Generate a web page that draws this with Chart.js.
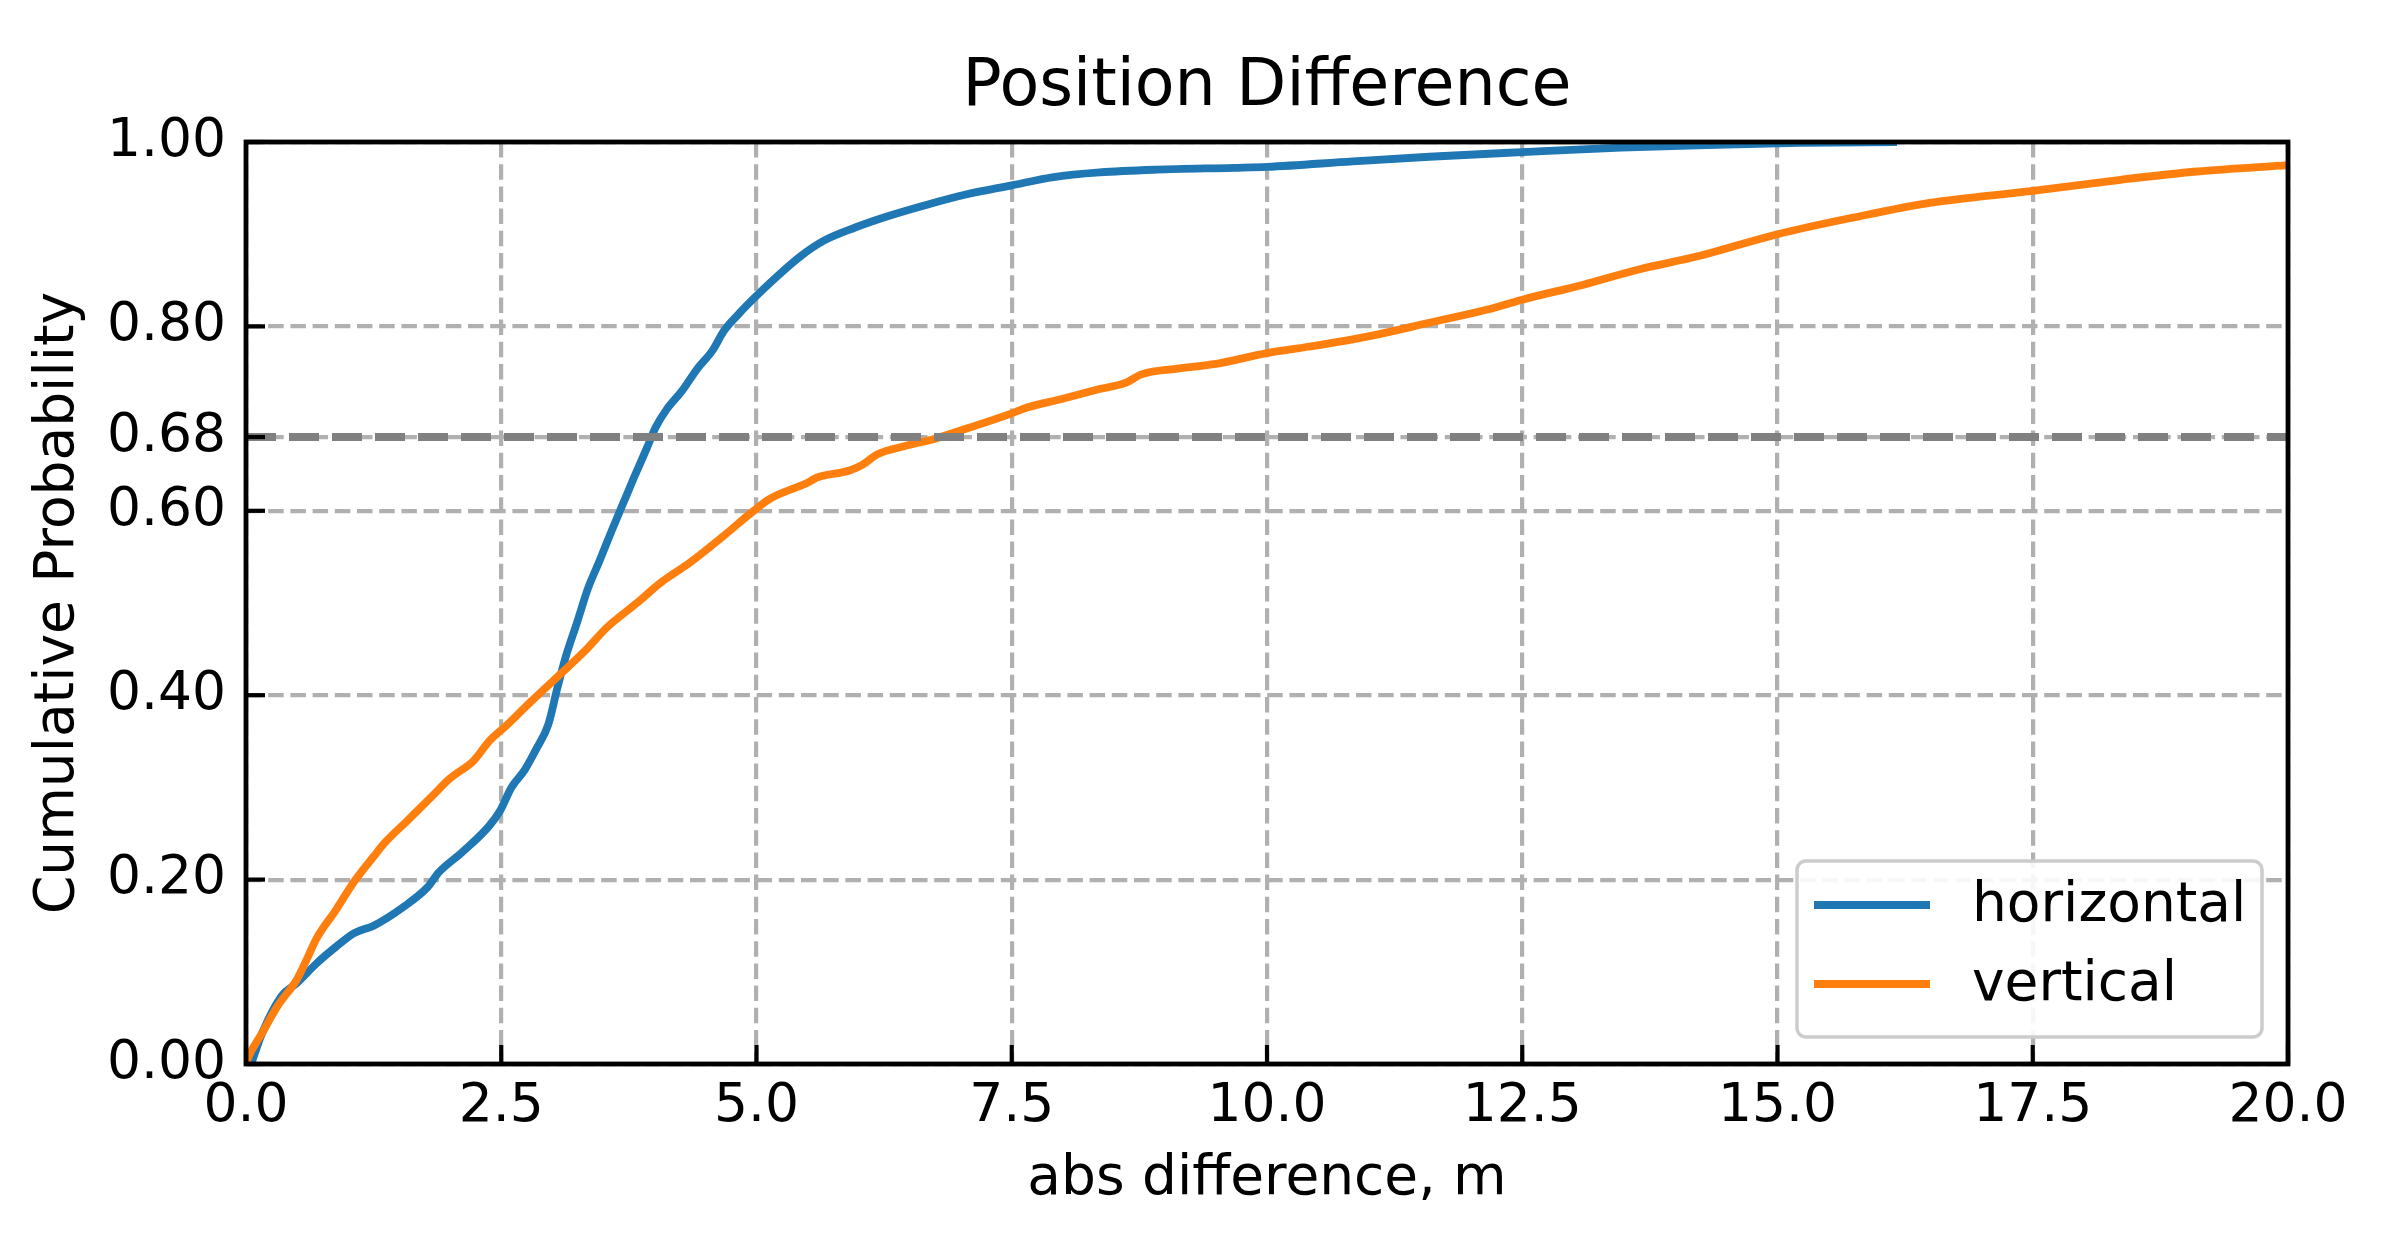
<!DOCTYPE html>
<html>
<head>
<meta charset="utf-8">
<script src="https://cdn.jsdelivr.net/npm/chart.js@4/dist/chart.umd.min.js"></script>
<style>
  html, body { margin: 0; padding: 0; background: #fff; }
  canvas { display: block; }
</style>
</head>
<body>
<canvas id="chart" width="2390" height="1255"></canvas>
<script>
// values
const horizontalX = [0.05, 0.16, 0.35, 0.50, 0.69, 0.88, 1.06, 1.25, 1.55, 1.78, 1.89, 2.11, 2.38, 2.49, 2.60, 2.73, 2.84, 2.96, 3.05, 3.13, 3.24, 3.35, 3.46, 3.58, 3.69, 3.80, 3.93, 4.01, 4.12, 4.27, 4.42, 4.57, 4.68, 4.83, 4.98, 5.17, 5.43, 5.66, 5.96, 6.30, 6.67, 7.05, 7.50, 7.91, 8.36, 8.92, 9.67, 10.0, 10.84, 11.59, 12.5, 13.47, 14.40, 15.22, 16.17];
const horizontalY = [0, 0.034, 0.074, 0.088, 0.109, 0.127, 0.142, 0.150, 0.171, 0.192, 0.208, 0.229, 0.258, 0.275, 0.300, 0.319, 0.341, 0.368, 0.408, 0.441, 0.478, 0.516, 0.545, 0.578, 0.607, 0.636, 0.669, 0.690, 0.710, 0.730, 0.754, 0.774, 0.795, 0.814, 0.831, 0.851, 0.876, 0.893, 0.907, 0.920, 0.932, 0.943, 0.953, 0.962, 0.967, 0.970, 0.972, 0.973, 0.979, 0.984, 0.989, 0.994, 0.997, 0.999, 1.0];

const verticalX = [0, 0.03, 0.16, 0.31, 0.50, 0.61, 0.69, 0.88, 1.06, 1.25, 1.36, 1.59, 1.81, 2.00, 2.23, 2.38, 2.56, 2.79, 3.09, 3.31, 3.54, 3.84, 4.05, 4.35, 4.68, 4.95, 5.13, 5.51, 5.59, 5.92, 6.04, 6.18, 6.48, 6.74, 7.08, 7.46, 7.65, 7.98, 8.36, 8.62, 8.77, 9.11, 9.48, 10.0, 10.47, 11.03, 11.59, 12.15, 12.5, 13.09, 13.65, 14.22, 15.0, 15.74, 16.49, 17.5, 18.36, 19.11, 20.0];
const verticalY = [0, 0.009, 0.034, 0.063, 0.092, 0.117, 0.136, 0.167, 0.198, 0.225, 0.240, 0.265, 0.289, 0.310, 0.329, 0.350, 0.368, 0.393, 0.424, 0.447, 0.474, 0.501, 0.521, 0.544, 0.573, 0.598, 0.613, 0.631, 0.636, 0.644, 0.650, 0.661, 0.671, 0.678, 0.690, 0.704, 0.712, 0.721, 0.732, 0.739, 0.748, 0.754, 0.759, 0.771, 0.779, 0.790, 0.804, 0.818, 0.829, 0.845, 0.862, 0.876, 0.900, 0.918, 0.934, 0.947, 0.959, 0.968, 0.975];

const refLevel = 0.68;
const xRange = [0, 20];
const yTickValues = [0, 0.2, 0.4, 0.6, 0.68, 0.8, 1.0];

const FONT = "'DejaVu Sans', sans-serif";

function toPoints(xs, ys) {
  return xs.map((x, i) => ({ x: x, y: ys[i] }));
}

// spines, inward ticks and the legend box drawn on top of the lines
const framePlugin = {
  id: "frame",
  afterDatasetsDraw(chart) {
    const { ctx, chartArea: a, scales } = chart;
    ctx.save();
    ctx.strokeStyle = "#000";
    ctx.lineWidth = 4.2;
    ctx.lineCap = "butt";
    scales.x.ticks.forEach((t) => {
      const px = scales.x.getPixelForValue(t.value);
      ctx.beginPath();
      ctx.moveTo(px, a.bottom);
      ctx.lineTo(px, a.bottom - 19);
      ctx.stroke();
    });
    scales.y.ticks.forEach((t) => {
      const py = scales.y.getPixelForValue(t.value);
      ctx.beginPath();
      ctx.moveTo(a.left, py);
      ctx.lineTo(a.left + 19, py);
      ctx.stroke();
    });
    ctx.lineWidth = 4.8;
    ctx.strokeRect(a.left, a.top, a.right - a.left, a.bottom - a.top);

    // legend
    const bx = 1797, by = 861, bw = 465, bh = 176, r = 9;
    ctx.beginPath();
    ctx.roundRect(bx, by, bw, bh, r);
    ctx.fillStyle = "rgba(255,255,255,0.9)";
    ctx.fill();
    ctx.lineWidth = 3.5;
    ctx.strokeStyle = "#cccccc";
    ctx.stroke();
    const rows = [905, 984];
    chart.data.datasets.slice(0, 2).forEach((ds, i) => {
      ctx.strokeStyle = ds.borderColor;
      ctx.lineWidth = ds.borderWidth;
      ctx.beginPath();
      ctx.moveTo(1814, rows[i]);
      ctx.lineTo(1930, rows[i]);
      ctx.stroke();
      ctx.fillStyle = "#000";
      ctx.font = "55px " + FONT;
      ctx.textAlign = "left";
      ctx.textBaseline = "middle";
      ctx.fillText(ds.label, 1972, rows[i] + 2);
    });
    ctx.restore();
  },
};

const ctx = document.getElementById("chart").getContext("2d");
new Chart(ctx, {
  type: "line",
  data: {
    datasets: [
      {
        label: "horizontal",
        data: toPoints(horizontalX, horizontalY),
        borderColor: "#1f77b4",
        borderWidth: 7.8,
        pointRadius: 0,
        fill: false,
        cubicInterpolationMode: "monotone",
        order: 2,
      },
      {
        label: "vertical",
        data: toPoints(verticalX, verticalY),
        borderColor: "#ff7f0e",
        borderWidth: 7.8,
        pointRadius: 0,
        fill: false,
        cubicInterpolationMode: "monotone",
        order: 1,
      },
      {
        label: "0.68",
        data: toPoints(xRange, [refLevel, refLevel]),
        borderColor: "#808080",
        borderWidth: 8,
        borderDash: [30, 13],
        pointRadius: 0,
        fill: false,
        order: 0,
      },
    ],
  },
  options: {
    responsive: false,
    devicePixelRatio: 1,
    animation: false,
    layout: {
      padding: { left: 0, right: 102, top: 0, bottom: 0 },
    },
    scales: {
      x: {
        type: "linear",
        min: xRange[0],
        max: xRange[1],
        afterFit: (scale) => { scale.height = 191; },
        grid: {
          color: "#b0b0b0",
          lineWidth: 4.2,
          drawTicks: false,
        },
        border: { display: false, dash: [15.5, 6.7] },
        ticks: {
          stepSize: 2.5,
          autoSkip: false,
          maxRotation: 0,
          padding: 11,
          color: "#000",
          font: { family: FONT, size: 53.5 },
          callback: (v) => Number(v).toFixed(1),
        },
        title: {
          display: true,
          text: "abs difference, m",
          color: "#000",
          font: { family: FONT, size: 55 },
          padding: { top: 0, bottom: 42 },
        },
      },
      y: {
        type: "linear",
        min: 0,
        max: 1,
        afterFit: (scale) => { scale.width = 246; },
        afterBuildTicks: (scale) => {
          scale.ticks = yTickValues.map((v) => ({ value: v }));
        },
        grid: {
          color: "#b0b0b0",
          lineWidth: 4.2,
          drawTicks: false,
        },
        border: { display: false, dash: [15.5, 6.7] },
        ticks: {
          autoSkip: false,
          padding: 20,
          color: "#000",
          font: { family: FONT, size: 53.5 },
          callback: (v) => Number(v).toFixed(2),
        },
        title: {
          display: true,
          text: "Cumulative Probability",
          color: "#000",
          font: { family: FONT, size: 55 },
          padding: { top: 26, bottom: 0 },
        },
      },
    },
    plugins: {
      legend: { display: false },
      tooltip: { enabled: false },
      title: {
        display: true,
        fullSize: false,
        text: "Position Difference",
        color: "#000",
        font: { family: FONT, size: 65, weight: "normal" },
        padding: { top: 49, bottom: 15 },
      },
    },
  },
  plugins: [framePlugin],
});
</script>
</body>
</html>
